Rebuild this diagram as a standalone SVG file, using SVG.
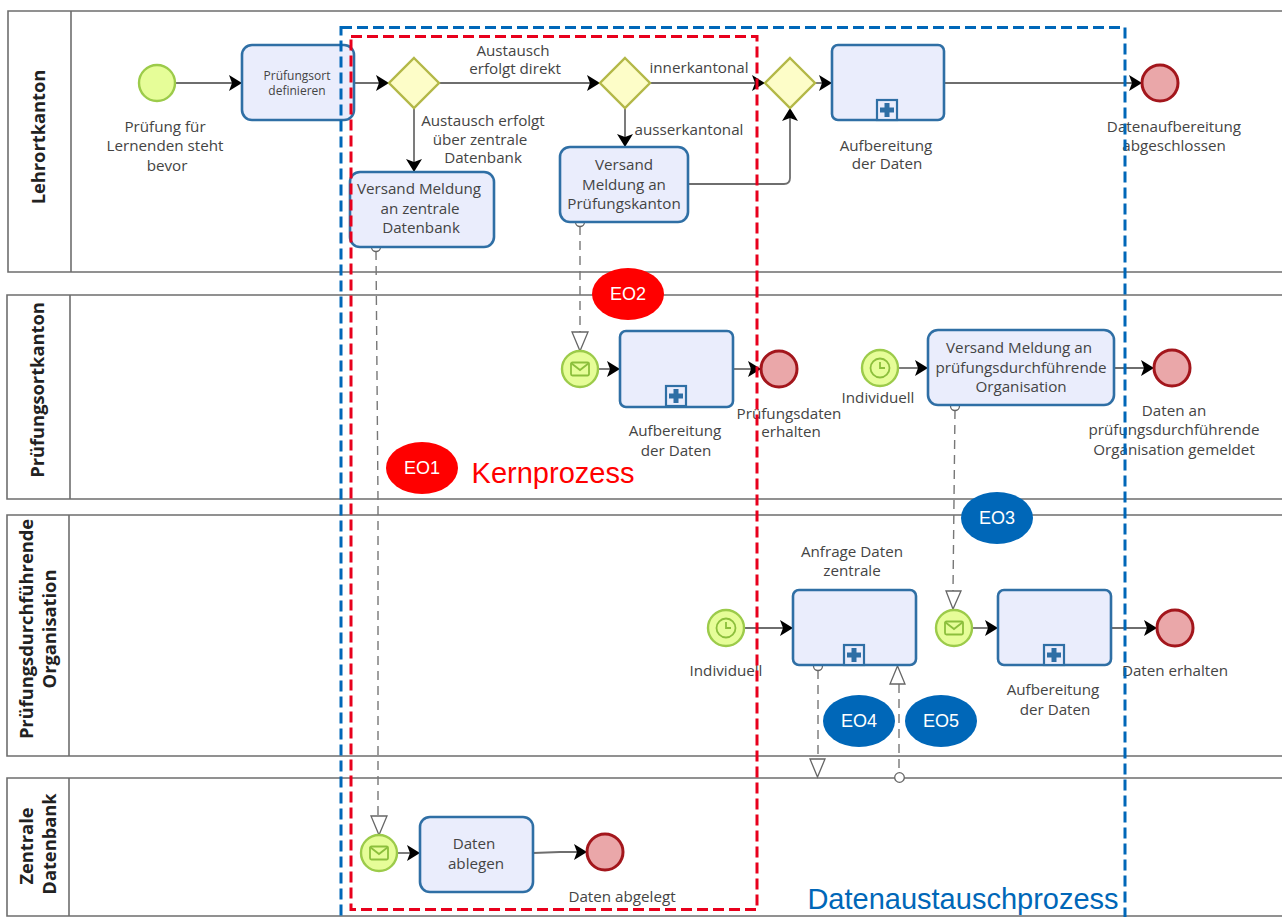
<svg xmlns="http://www.w3.org/2000/svg" width="1282" height="917" viewBox="0 0 1282 917">
<style>
text{font-family:"Open Sans","Liberation Sans",sans-serif;font-size:15.2px;fill:#444;text-anchor:middle}
.lane{fill:none;stroke:#6e6e6e;stroke-width:1.6}
.hdr{font-weight:700;font-size:18.300px;fill:#222}
.task{fill:#eaedfc;stroke:#2f6fa5;stroke-width:2.6}
.gw{fill:#fdfdc8;stroke:#b3b847;stroke-width:2.4}
.st{fill:#e6fd98;stroke:#9ccb4a;stroke-width:2.4}
.en{fill:#eaa7a9;stroke:#a3161c;stroke-width:3}
.icg{fill:none;stroke:#8cbf3c;stroke-width:1.8}
.flow{fill:none;stroke:#6e6e6e;stroke-width:1.8}
.msg{fill:none;stroke:#777;stroke-width:1.4;stroke-dasharray:9 6}
.hollow{fill:#fff;stroke:#666;stroke-width:1.3}
.ah{fill:#000}
.eor{fill:#f00}
.eob{fill:#0067b8}
.eo{fill:#fff;font-family:"Liberation Sans",sans-serif;font-size:18px}
.pl{fill:#eaedfc;stroke:#2f6fa5;stroke-width:2.2}
.plus{fill:#2f6fa5}
</style>
<defs>
<marker id="arr" markerUnits="userSpaceOnUse" markerWidth="14" markerHeight="16" refX="13" refY="8" orient="auto"><path class="ah" d="M0 0L13 8L0 16L3 8Z"/></marker>
<g id="sub"><rect class="pl" x="-10" y="-20" width="20" height="20"/><path class="plus" d="M-2.500 -17h5v4.500h4.500v5h-4.500v4.500h-5v-4.500h-4.500v-5h4.500z"/></g>
<g id="env"><rect class="icg" x="-9" y="-6.500" width="18" height="13" rx="1.500"/><path class="icg" d="M-9 -6L0 1L9 -6"/></g>
<g id="clk"><circle class="icg" r="9.500"/><path class="icg" d="M0 -6V0H5"/></g>
</defs>

<g id="lanes">
<g id="lane-lehrortkanton"><path class="lane" d="M1282 11H8V272H1282M71 11V272"/><text class="hdr" transform="translate(45 137) rotate(-90)">Lehrortkanton</text></g>
<g id="lane-pruefungsortkanton"><path class="lane" d="M1282 295H7V499H1282M70 295V499"/><text class="hdr" transform="translate(44 390) rotate(-90)">Prüfungsortkanton</text></g>
<g id="lane-organisation"><path class="lane" d="M1282 515H7V756H1282M69 515V756"/><text class="hdr" transform="translate(33 629) rotate(-90)">Prüfungsdurchführende</text><text class="hdr" transform="translate(56 629) rotate(-90)">Organisation</text></g>
<g id="lane-datenbank"><path class="lane" d="M1282 778H7V916H1282M69 778V916"/><text class="hdr" transform="translate(33 846) rotate(-90)">Zentrale</text><text class="hdr" transform="translate(56 844) rotate(-90)">Datenbank</text></g>
</g>

<g id="connectors">
<path class="flow" marker-end="url(#arr)" d="M175 83H242"/>
<path class="flow" marker-end="url(#arr)" d="M354 83H389"/>
<path class="flow" marker-end="url(#arr)" d="M439 83H600"/>
<path class="flow" marker-end="url(#arr)" d="M414 108V172"/>
<path class="flow" marker-end="url(#arr)" d="M625 108V147"/>
<path class="flow" marker-end="url(#arr)" d="M650 83H765"/>
<path class="flow" marker-end="url(#arr)" d="M815 83H832"/>
<path class="flow" marker-end="url(#arr)" d="M688 184H784Q790 184 790 178V108"/>
<path class="flow" marker-end="url(#arr)" d="M944 83H1142"/>
<path class="flow" marker-end="url(#arr)" d="M598 369H620"/>
<path class="flow" marker-end="url(#arr)" d="M733 369H761"/>
<path class="flow" marker-end="url(#arr)" d="M898 368H928"/>
<path class="flow" marker-end="url(#arr)" d="M1114 368H1154"/>
<path class="flow" marker-end="url(#arr)" d="M744 628H793"/>
<path class="flow" marker-end="url(#arr)" d="M972 628H998"/>
<path class="flow" marker-end="url(#arr)" d="M1111 628H1157"/>
<path class="flow" marker-end="url(#arr)" d="M397 853H420"/>
<path class="flow" marker-end="url(#arr)" d="M533 853L560 852H587"/>
<path class="msg" d="M376 251L378 500V815"/>
<path class="hollow" d="M371 816H387L379 835Z"/>
<circle class="hollow" cx="376" cy="247" r="4.500"/>
<path class="msg" d="M580 226V332"/>
<path class="hollow" d="M572 332H588L580 351Z"/>
<circle class="hollow" cx="580" cy="222" r="4.500"/>
<path class="msg" d="M955 410L953 591"/>
<path class="hollow" d="M946 591H961L953 609Z"/>
<circle class="hollow" cx="955" cy="406" r="4.500"/>
<path class="msg" d="M818 670V759"/>
<path class="hollow" d="M810 759H825L817.500 777Z"/>
<circle class="hollow" cx="818" cy="666" r="4.500"/>
<path class="msg" d="M899 684V773"/>
<path class="hollow" d="M890 684H905L897.500 666Z"/>
<circle class="hollow" cx="899.500" cy="777.500" r="4.800"/>
</g>

<g id="start-1"><circle class="st" cx="157" cy="83" r="18"/><text x="165" y="132">Prüfung für</text><text x="165" y="151">Lernenden steht</text><text x="167" y="171">bevor</text></g>
<g id="task-ort"><rect class="task" x="242" y="45" width="112" height="75" rx="10"/><text x="297" y="80" style="font-size:12px">Prüfungsort</text><text x="297" y="95" style="font-size:12px">definieren</text></g>
<g id="gw-1"><path class="gw" d="M414 58L439 83L414 108L389 83Z"/></g>
<g id="gw-2"><path class="gw" d="M625 58L650 83L625 108L600 83Z"/></g>
<g id="gw-3"><path class="gw" d="M790 58L815 83L790 108L765 83Z"/></g>
<g id="lbl-flows">
<text x="513" y="56">Austausch</text><text x="515" y="74">erfolgt direkt</text>
<text x="483" y="126">Austausch erfolgt</text><text x="480" y="145">über zentrale</text><text x="483" y="163">Datenbank</text>
<text x="699" y="73">innerkantonal</text><text x="689" y="135">ausserkantonal</text>
</g>
<g id="task-zentral"><rect class="task" x="350" y="172" width="144" height="75" rx="10"/><text x="419" y="194">Versand Meldung</text><text x="420" y="214">an zentrale</text><text x="421" y="233">Datenbank</text></g>
<g id="task-pk"><rect class="task" x="560" y="147" width="128" height="75" rx="10"/><text x="624" y="170">Versand</text><text x="624" y="190">Meldung an</text><text x="624" y="209">Prüfungskanton</text></g>
<g id="task-auf-1"><rect class="task" x="832" y="45" width="112" height="75" rx="6"/><use href="#sub" x="887" y="120"/><text x="886" y="151">Aufbereitung</text><text x="887" y="169">der Daten</text></g>
<g id="end-1"><circle class="en" cx="1160" cy="83" r="18"/><text x="1174" y="132">Datenaufbereitung</text><text x="1174" y="151">abgeschlossen</text></g>

<g id="start-2"><circle class="st" cx="580" cy="369" r="18"/><use href="#env" x="580" y="369"/></g>
<g id="task-auf-2"><rect class="task" x="620" y="331" width="113" height="76" rx="6"/><use href="#sub" x="676" y="406"/><text x="675" y="436">Aufbereitung</text><text x="676" y="456">der Daten</text></g>
<g id="end-2"><circle class="en" cx="779" cy="369" r="18"/><text x="789" y="419">Prüfungsdaten</text><text x="791" y="437">erhalten</text></g>
<g id="timer-1"><circle class="st" cx="880" cy="368" r="18"/><use href="#clk" x="880" y="368"/><text x="878" y="403">Individuell</text></g>
<g id="task-versand"><rect class="task" x="928" y="330" width="186" height="75" rx="10"/><text x="1019" y="353">Versand Meldung an</text><text x="1021" y="373">prüfungsdurchführende</text><text x="1021" y="392">Organisation</text></g>
<g id="end-3"><circle class="en" cx="1172" cy="368" r="18"/><text x="1174" y="416">Daten an</text><text x="1174" y="435">prüfungsdurchführende</text><text x="1174" y="455">Organisation gemeldet</text></g>

<g id="timer-2"><circle class="st" cx="726" cy="628" r="18"/><use href="#clk" x="726" y="628"/><text x="726" y="676">Individuell</text></g>
<g id="task-anfrage"><rect class="task" x="793" y="590" width="123" height="75" rx="6"/><use href="#sub" x="854" y="665"/><text x="852" y="557">Anfrage Daten</text><text x="852" y="576">zentrale</text></g>
<g id="start-3"><circle class="st" cx="954" cy="628" r="18"/><use href="#env" x="954" y="628"/></g>
<g id="task-auf-3"><rect class="task" x="998" y="590" width="113" height="75" rx="6"/><use href="#sub" x="1054" y="665"/><text x="1053" y="695">Aufbereitung</text><text x="1055" y="715">der Daten</text></g>
<g id="end-4"><circle class="en" cx="1175" cy="628" r="18"/><text x="1175" y="676">Daten erhalten</text></g>

<g id="start-4"><circle class="st" cx="379" cy="853" r="18"/><use href="#env" x="379" y="853"/></g>
<g id="task-ablegen"><rect class="task" x="420" y="817" width="113" height="75" rx="10"/><text x="474" y="849">Daten</text><text x="476" y="869">ablegen</text></g>
<g id="end-5"><circle class="en" cx="605" cy="852" r="18"/><text x="622" y="902">Daten abgelegt</text></g>

<g id="regions">
<rect x="341" y="27.500" width="784" height="900" fill="none" stroke="#0067b8" stroke-width="3" stroke-dasharray="11 5"/>
<rect x="351" y="36.500" width="406" height="873" fill="none" stroke="#e8001c" stroke-width="3" stroke-dasharray="11 5"/>
<text x="553" y="483" style="font-family:'Liberation Sans',sans-serif;font-size:29px;fill:#f00">Kernprozess</text>
<text x="963" y="909" style="font-family:'Liberation Sans',sans-serif;font-size:29px;fill:#0067b8">Datenaustauschprozess</text>
</g>
<g id="eo1"><ellipse class="eor" cx="422" cy="468" rx="36" ry="26"/><text class="eo" x="422" y="474">EO1</text></g>
<g id="eo2"><ellipse class="eor" cx="628" cy="294" rx="36" ry="26"/><text class="eo" x="628" y="300">EO2</text></g>
<g id="eo3"><ellipse class="eob" cx="997" cy="518" rx="36" ry="26"/><text class="eo" x="997" y="524">EO3</text></g>
<g id="eo4"><ellipse class="eob" cx="859" cy="721" rx="36" ry="26"/><text class="eo" x="859" y="727">EO4</text></g>
<g id="eo5"><ellipse class="eob" cx="941" cy="721" rx="36" ry="26"/><text class="eo" x="941" y="727">EO5</text></g>
</svg>
